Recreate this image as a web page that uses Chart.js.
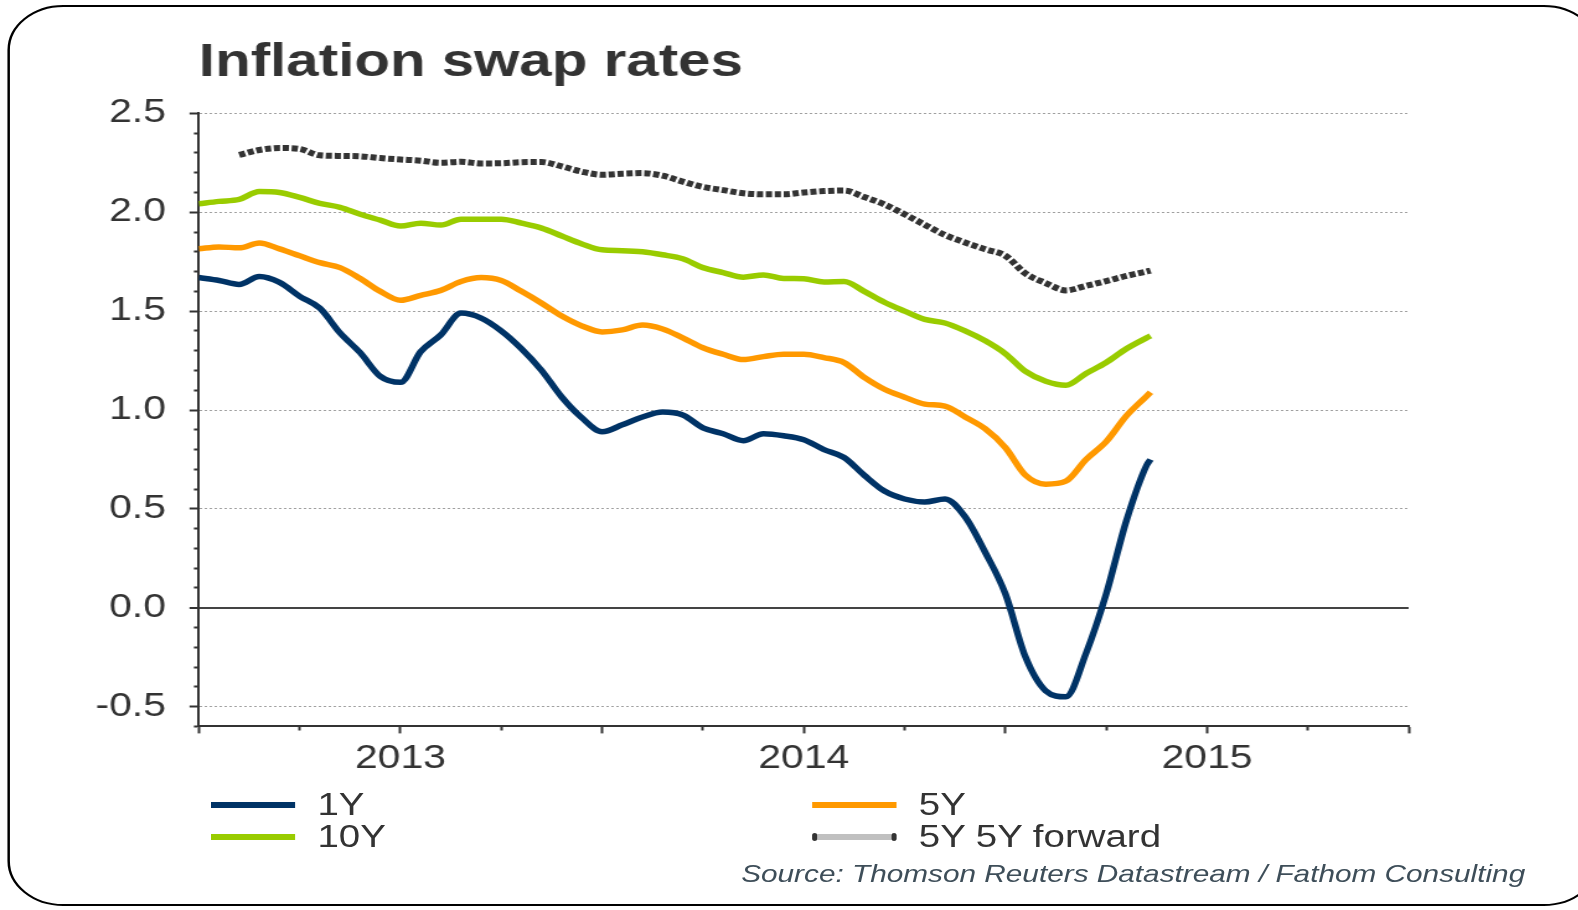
<!DOCTYPE html>
<html>
<head>
<meta charset="utf-8">
<title>Inflation swap rates</title>
<script src="https://cdn.jsdelivr.net/npm/chart.js@4.4.1/dist/chart.umd.min.js"></script>
<style>
  html, body { margin: 0; padding: 0; background: #fff; overflow: hidden; }
  /* the source picture is stretched sideways, so the whole stage is too */
  #stage { position: absolute; left: 0; top: 0; width: 1273px; height: 910px;
           transform: scaleX(1.24); transform-origin: 0 0;
           font-family: "Liberation Sans", Arial, sans-serif; color: #333; }
  #frame { position: absolute; left: 6px; top: 5px; width: 1284px; height: 901px;
           box-sizing: border-box; border: 2px solid #000; border-radius: 45px; }
  #chart { position: absolute; left: 0; top: 0; }
  #legend { position: absolute; left: 170px; top: 789px; display: grid;
            grid-template-columns: 485px auto; grid-auto-rows: 32px; }
  .item { display: flex; align-items: center; font-size: 31px; line-height: 32px; }
  .swatch { position: relative; width: 68px; height: 6px; margin-right: 18px; }
  .dot { position: absolute; top: -1px; width: 4px; height: 8px; background: #333; border-radius: 2px; }
  #source { position: absolute; right: 43px; top: 862px; font-size: 24px; line-height: 24px;
            font-style: italic; color: #3e4e59; white-space: nowrap; }
</style>
</head>
<body>
<div id="stage">
  <div id="frame"></div>
  <canvas id="chart" width="1273" height="910" style="width:1273px;height:910px"></canvas>
  <div id="legend"></div>
  <div id="source">Source: Thomson Reuters Datastream / Fathom Consulting</div>
</div>
<script>
// dates as decimal years
const years = [
  2012.50, 2012.55, 2012.60, 2012.65, 2012.70, 2012.75, 2012.80, 2012.85, 2012.90, 2012.95,
  2013.00, 2013.05, 2013.10, 2013.15, 2013.20, 2013.25, 2013.30, 2013.35, 2013.40, 2013.45,
  2013.50, 2013.55, 2013.60, 2013.65, 2013.70, 2013.75, 2013.80, 2013.85, 2013.90, 2013.95,
  2014.00, 2014.05, 2014.10, 2014.15, 2014.20, 2014.25, 2014.30, 2014.35, 2014.40, 2014.45,
  2014.50, 2014.55, 2014.60, 2014.65, 2014.70, 2014.75, 2014.80, 2014.85, 2014.86
];

const rate1Y = [
  1.67, 1.655, 1.635, 1.675, 1.645, 1.575, 1.515, 1.39, 1.29, 1.17,
  1.14, 1.295, 1.38, 1.49, 1.465, 1.40, 1.31, 1.20, 1.065, 0.96,
  0.89, 0.925, 0.965, 0.99, 0.975, 0.91, 0.88, 0.845, 0.88, 0.87,
  0.85, 0.80, 0.76, 0.67, 0.59, 0.55, 0.535, 0.55, 0.46, 0.28,
  0.07, -0.25, -0.42, -0.45, -0.23, 0.07, 0.44, 0.72, 0.75
];

const rate5Y = [
  1.815, 1.825, 1.82, 1.845, 1.815, 1.78, 1.745, 1.72, 1.665, 1.60,
  1.555, 1.58, 1.605, 1.65, 1.67, 1.655, 1.60, 1.54, 1.475, 1.425,
  1.395, 1.405, 1.43, 1.41, 1.365, 1.315, 1.282, 1.255, 1.27, 1.282,
  1.282, 1.265, 1.24, 1.165, 1.105, 1.065, 1.03, 1.02, 0.965, 0.905,
  0.81, 0.67, 0.625, 0.64, 0.75, 0.84, 0.97, 1.07, 1.09
];

const rate10Y = [
  2.043, 2.055, 2.065, 2.105, 2.10, 2.075, 2.045, 2.025, 1.99, 1.96,
  1.93, 1.945, 1.935, 1.965, 1.965, 1.965, 1.945, 1.92, 1.88, 1.84,
  1.81, 1.806, 1.80, 1.785, 1.765, 1.72, 1.695, 1.672, 1.683, 1.665,
  1.664, 1.648, 1.65, 1.60, 1.545, 1.50, 1.458, 1.44, 1.40, 1.35,
  1.285, 1.195, 1.145, 1.125, 1.185, 1.24, 1.31, 1.365, 1.375
];

const rate5Y5Y = [
  null, null, 2.29, 2.315, 2.325, 2.32, 2.288, 2.285, 2.283, 2.274,
  2.267, 2.261, 2.25, 2.255, 2.247, 2.248, 2.253, 2.254, 2.232, 2.205,
  2.19, 2.195, 2.198, 2.185, 2.155, 2.128, 2.112, 2.096, 2.091, 2.091,
  2.10, 2.107, 2.11, 2.077, 2.04, 1.99, 1.937, 1.885, 1.847, 1.813,
  1.78, 1.69, 1.642, 1.605, 1.628, 1.652, 1.678, 1.70, 1.705
];

const yearLabels = [2013, 2014, 2015];

const pts = arr => years.map((x, i) => ({ x: x, y: arr[i] }));
const onStep = (v, step) => Math.abs(v / step - Math.round(v / step)) < 1e-6;

Chart.defaults.font.family = '"Liberation Sans", Arial, sans-serif';
Chart.defaults.color = '#333';

const chart = new Chart(document.getElementById('chart'), {
  type: 'line',
  data: {
    datasets: [
      { label: '1Y', data: pts(rate1Y), borderColor: '#003366', borderWidth: 5.5 },
      { label: '5Y', data: pts(rate5Y), borderColor: '#ff9900', borderWidth: 5.5 },
      { label: '10Y', data: pts(rate10Y), borderColor: '#99cc00', borderWidth: 5.5 },
      { label: '5Y 5Y forward', data: pts(rate5Y5Y), borderColor: '#333333', borderWidth: 6,
        borderDash: [5, 2.2], borderCapStyle: 'butt' }
    ]
  },
  options: {
    responsive: false,
    animation: false,
    layout: { padding: { left: 58, right: 137, top: 23, bottom: 125 } },
    elements: {
      point: { radius: 0 },
      line: { cubicInterpolationMode: 'monotone', borderJoinStyle: 'round' }
    },
    plugins: {
      legend: { display: false },
      tooltip: { enabled: false },
      title: {
        display: true,
        text: 'Inflation swap rates',
        align: 'start',
        fullSize: false,
        color: '#333',
        font: { size: 47, weight: 'bold' },
        padding: { top: 12, bottom: 22 }
      }
    },
    scales: {
      x: {
        type: 'linear',
        min: 2012.5,
        max: 2015.5,
        border: { color: '#333', width: 2 },
        grid: {
          drawOnChartArea: false,
          tickLength: 7,
          tickWidth: 2,
          tickColor: '#333',
          tickBorderDash: c => (c.tick && onStep(c.tick.value, 0.5)) ? [] : [3.5, 20]
        },
        ticks: {
          stepSize: 0.25,
          autoSkip: false,
          maxRotation: 0,
          padding: 6,
          color: '#333',
          font: { size: 33 },
          callback: v => yearLabels.includes(v) ? String(v) : ''
        }
      },
      y: {
        min: -0.6,
        max: 2.5,
        border: {
          color: '#333',
          width: 2,
          dash: c => (c.tick && Math.abs(c.tick.value) > 1e-9) ? [2, 2] : []
        },
        grid: {
          color: c => {
            const v = c.tick ? c.tick.value : NaN;
            if (!onStep(v, 0.5)) return 'rgba(0,0,0,0)';
            return Math.abs(v) < 1e-9 ? '#444' : '#a0a0a0';
          },
          lineWidth: c => (c.tick && Math.abs(c.tick.value) < 1e-9) ? 2 : 1,
          tickLength: 7.5,
          tickWidth: 2,
          tickColor: '#333',
          tickBorderDash: c => (c.tick && onStep(c.tick.value, 0.5)) ? [] : [0, 3.5, 20]
        },
        ticks: {
          stepSize: 0.1,
          autoSkip: false,
          padding: 19,
          color: '#333',
          font: { size: 33 },
          callback: v => onStep(v, 0.5) ? v.toFixed(1) : ''
        }
      }
    }
  }
});

// legend in two columns, built from the datasets
const legendBox = document.getElementById('legend');
chart.data.datasets.forEach(ds => {
  const item = document.createElement('div');
  item.className = 'item';
  const sw = document.createElement('span');
  sw.className = 'swatch';
  if (ds.borderDash) {
    sw.style.background = '#c0c0c0';
    ['0px', '64px'].forEach(left => {
      const d = document.createElement('span');
      d.className = 'dot';
      d.style.left = left;
      sw.appendChild(d);
    });
  } else {
    sw.style.background = ds.borderColor;
  }
  const txt = document.createElement('span');
  txt.textContent = ds.label;
  item.appendChild(sw);
  item.appendChild(txt);
  legendBox.appendChild(item);
});
</script>
</body>
</html>
